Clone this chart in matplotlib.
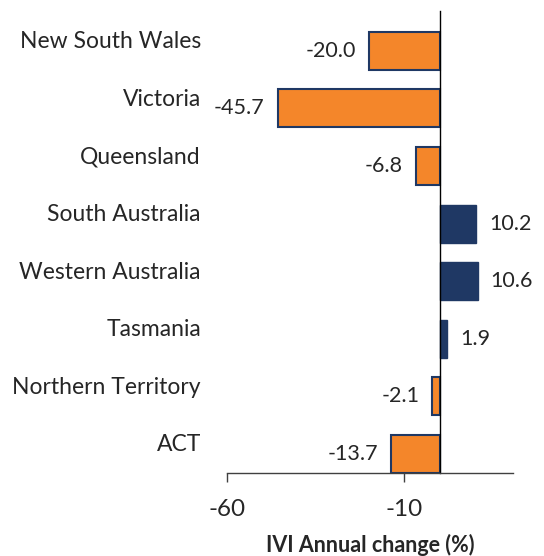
import matplotlib
matplotlib.use("Agg")
import matplotlib.pyplot as plt
import matplotlib.transforms as mtransforms

states = ["New South Wales", "Victoria", "Queensland", "South Australia",
          "Western Australia", "Tasmania", "Northern Territory", "ACT"]
changes = [-20.0, -45.7, -6.8, 10.2, 10.6, 1.9, -2.1, -13.7]
xticks = [-60, -10]

orange = "#F4862A"
navy = "#1F3864"
text_col = "#262626"

plt.rcParams["font.family"] = ["Lato", "DejaVu Sans"]

fig = plt.figure(figsize=(5.44, 5.56), dpi=100)
ax = fig.add_axes([0.4173, 0.1493, 0.5257, 0.8309])

y = list(range(len(states)))
for i, v in enumerate(changes):
    if v < 0:
        ax.barh(y[i], v, height=0.66, color=orange, edgecolor=navy, linewidth=1.5)
        ax.annotate(f"{v:.1f}", (v, y[i]), xytext=(-9.5, 0), textcoords="offset points",
                    ha="right", va="center", fontsize=15.5, color=text_col)
    else:
        ax.barh(y[i], v, height=0.66, color=navy, edgecolor=navy, linewidth=1.0)
        ax.annotate(f"{v:.1f}", (v, y[i]), xytext=(9.5, 0), textcoords="offset points",
                    ha="left", va="center", fontsize=15.5, color=text_col)

ax.set_xlim(-60, 20.6)
ax.set_ylim(7.33, -0.69)

ax.spines["top"].set_visible(False)
ax.spines["right"].set_visible(False)
ax.spines["left"].set_position(("data", 0))
ax.spines["left"].set_color("black")
ax.spines["left"].set_linewidth(1.0)
ax.spines["bottom"].set_color("#404040")
ax.spines["bottom"].set_linewidth(1.0)

ax.set_xticks(xticks)
ax.set_xticklabels([str(t) for t in xticks], fontsize=17.5, color=text_col)
ax.tick_params(axis="x", direction="out", length=6.5, width=1.0, color="#404040", pad=12.5)

ax.set_yticks([])
offset = mtransforms.ScaledTranslation(0, 9 / 100, fig.dpi_scale_trans)
for i, name in enumerate(states):
    ax.text(-0.091, i, name, transform=mtransforms.blended_transform_factory(ax.transAxes, ax.transData) + offset,
            ha="right", va="center", fontsize=16.5, color=text_col)

ax.set_xlabel("IVI Annual change (%)", fontsize=15.5, fontweight="bold", color=text_col, labelpad=10)

fig.savefig("out.png", dpi=100)
